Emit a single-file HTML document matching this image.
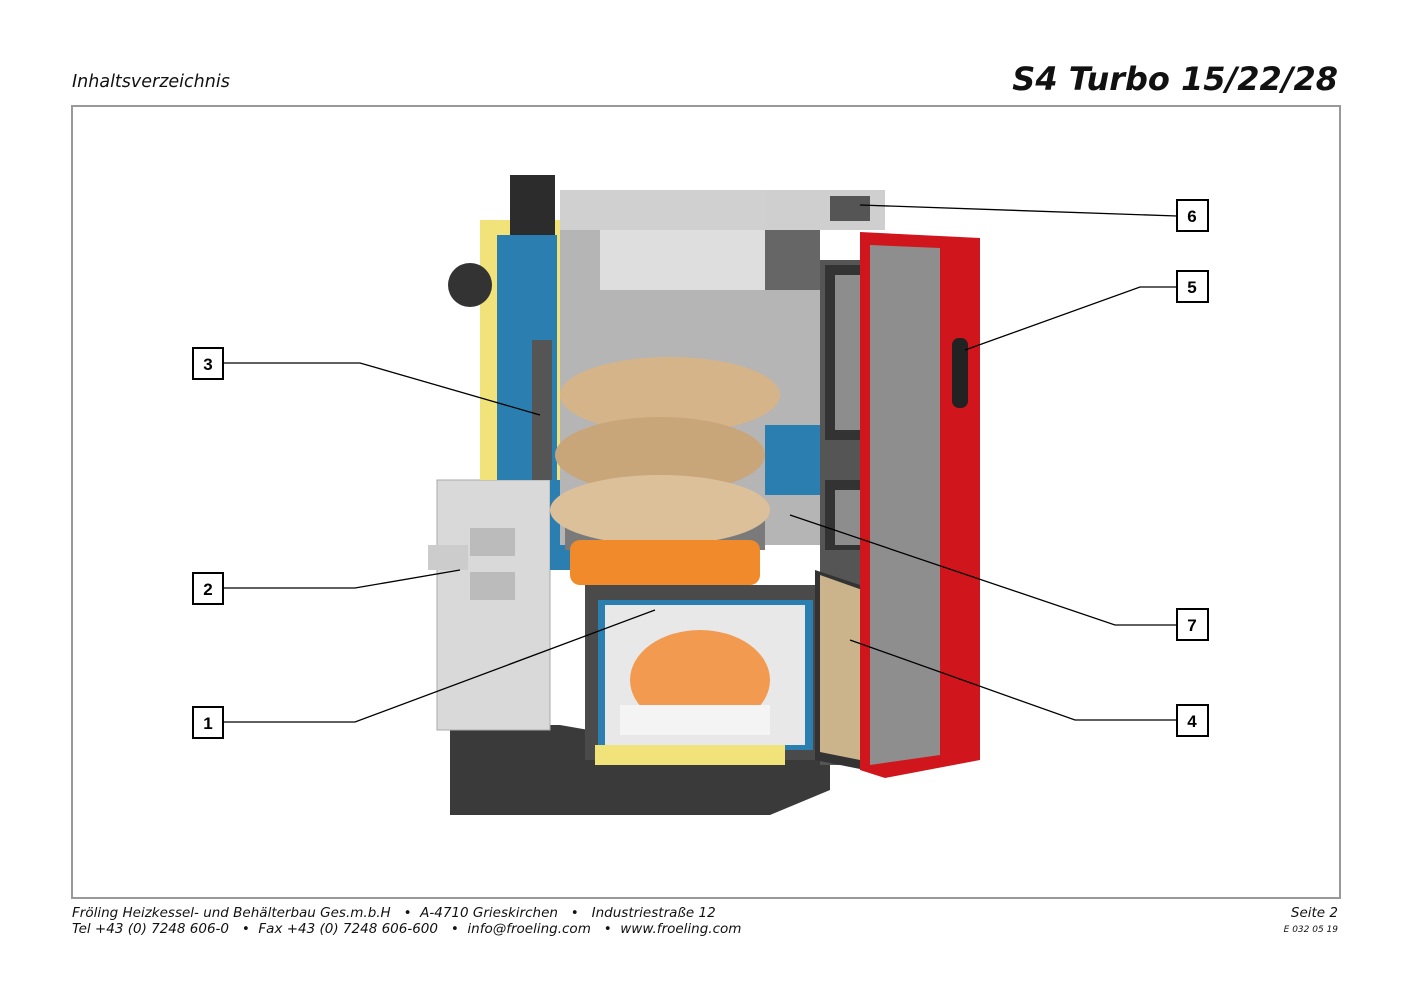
<!DOCTYPE html>
<html><head><meta charset="utf-8">
<style>
html,body{margin:0;padding:0;background:#fff;}
body{width:1410px;height:997px;position:relative;overflow:hidden;font-family:"DejaVu Sans","Liberation Sans",sans-serif;}
.t{position:absolute;font-style:italic;color:#111;white-space:nowrap;}
</style></head><body>
<div class="t" style="left:72px;top:72px;font-size:17.5px;">Inhaltsverzeichnis</div>
<div class="t" style="right:72px;top:60px;font-size:32px;font-weight:bold;">S4 Turbo 15/22/28</div>
<div class="t" style="left:72px;top:905px;font-size:13.5px;">Fröling Heizkessel- und Behälterbau Ges.m.b.H &nbsp;&nbsp;• &nbsp;A-4710 Grieskirchen &nbsp;&nbsp;• &nbsp;&nbsp;Industriestraße 12</div>
<div class="t" style="left:72px;top:921px;font-size:13.5px;">Tel +43 (0) 7248 606-0 &nbsp;&nbsp;• &nbsp;Fax +43 (0) 7248 606-600 &nbsp;&nbsp;• &nbsp;info@froeling.com &nbsp;&nbsp;• &nbsp;www.froeling.com</div>
<div class="t" style="right:72px;top:905px;font-size:13.5px;">Seite 2</div>
<div class="t" style="right:72px;top:925px;font-size:9px;">E 032 05 19</div>
<svg width="1410" height="997" style="position:absolute;left:0;top:0" xmlns="http://www.w3.org/2000/svg">
<rect x="72" y="106" width="1268" height="792" fill="none" stroke="#999" stroke-width="2"/>
<polygon points="450,725 560,725 760,760 830,735 830,790 770,815 450,815" fill="#3a3a3a"/>
<rect x="437" y="480" width="113" height="250" fill="#d9d9d9" stroke="#aaa"/>
<rect x="428" y="545" width="40" height="25" fill="#ccc"/>
<rect x="470" y="528" width="45" height="28" fill="#bbb"/><rect x="470" y="572" width="45" height="28" fill="#bbb"/>
<rect x="480" y="220" width="85" height="260" fill="#f2e27a"/>
<rect x="497" y="235" width="60" height="245" fill="#2a7fb0"/>
<rect x="532" y="340" width="20" height="140" fill="#555"/>
<rect x="510" y="175" width="45" height="60" fill="#2c2c2c"/>
<circle cx="470" cy="285" r="22" fill="#333"/>
<rect x="550" y="480" width="30" height="90" fill="#2a7fb0"/>
<rect x="560" y="230" width="260" height="315" fill="#b5b5b5"/>
<rect x="565" y="520" width="200" height="30" fill="#7a7a7a"/>
<ellipse cx="670" cy="395" rx="110" ry="38" fill="#d6b48a"/>
<ellipse cx="660" cy="455" rx="105" ry="38" fill="#c9a57a"/>
<ellipse cx="660" cy="510" rx="110" ry="35" fill="#dcc09a"/>
<rect x="570" y="540" width="190" height="45" rx="10" fill="#f08a2a"/>
<rect x="585" y="585" width="240" height="175" fill="#4a4a4a"/>
<rect x="598" y="600" width="215" height="150" fill="#2a7fb0"/>
<rect x="605" y="605" width="200" height="140" fill="#e8e8e8"/>
<ellipse cx="700" cy="680" rx="70" ry="50" fill="#f29a50"/>
<rect x="620" y="705" width="150" height="30" fill="#f4f4f4"/>
<rect x="595" y="745" width="190" height="20" fill="#f2e27a"/>
<rect x="560" y="190" width="260" height="40" fill="#d0d0d0"/>
<rect x="600" y="230" width="165" height="60" fill="#dedede"/>
<rect x="765" y="190" width="120" height="40" fill="#cfcfcf"/>
<rect x="830" y="196" width="40" height="25" fill="#555"/>
<rect x="765" y="230" width="55" height="60" fill="#666"/>
<rect x="820" y="260" width="40" height="505" fill="#555"/>
<rect x="825" y="265" width="75" height="175" fill="#333"/>
<rect x="835" y="275" width="55" height="155" fill="#8d8d8d"/>
<rect x="825" y="480" width="75" height="70" fill="#333"/>
<rect x="835" y="490" width="55" height="55" fill="#8d8d8d"/>
<rect x="765" y="425" width="55" height="70" fill="#2a7fb0"/>
<polygon points="815,570 890,595 890,775 815,760" fill="#333"/>
<polygon points="820,575 885,598 885,765 820,752" fill="#cbb48c"/>
<polygon points="860,232 980,238 980,760 885,778 860,770" fill="#d0161c"/>
<polygon points="870,245 940,248 940,755 870,765" fill="#8e8e8e"/>
<rect x="952" y="338" width="16" height="70" rx="7" fill="#222"/>
<g fill="none" stroke="#000" stroke-width="1.3">
<polyline points="1177,216 860,205"/>
<polyline points="1177,287 1140,287 965,350"/>
<polyline points="223,363 360,363 540,415"/>
<polyline points="223,588 355,588 460,570"/>
<polyline points="1177,625 1115,625 790,515"/>
<polyline points="223,722 355,722 655,610"/>
<polyline points="1177,720 1075,720 850,640"/>
</g>
<g fill="#fff" stroke="#000" stroke-width="2">
<rect x="1177" y="200" width="31" height="31"/>
<rect x="1177" y="271" width="31" height="31"/>
<rect x="193" y="348" width="30" height="31"/>
<rect x="193" y="573" width="30" height="31"/>
<rect x="1177" y="609" width="31" height="31"/>
<rect x="193" y="707" width="30" height="31"/>
<rect x="1177" y="705" width="31" height="31"/>
</g>
<g font-family="Liberation Sans,Arial,sans-serif" font-weight="bold" font-size="17" text-anchor="middle">
<text x="1192" y="222">6</text><text x="1192" y="293">5</text>
<text x="208" y="370">3</text><text x="208" y="595">2</text>
<text x="1192" y="631">7</text><text x="208" y="729">1</text>
<text x="1192" y="727">4</text>
</g>
</svg>
</body></html>
